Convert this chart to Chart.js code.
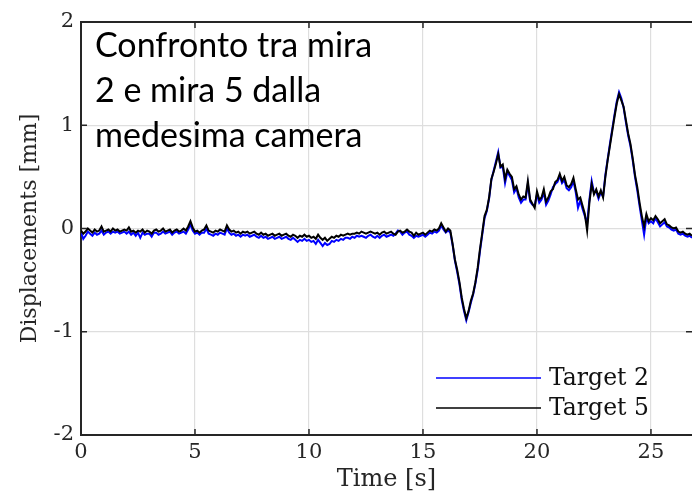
<!DOCTYPE html>
<html><head><meta charset="utf-8">
<script src="https://cdn.jsdelivr.net/npm/chart.js@4.4.1/dist/chart.umd.min.js"></script>
<style>html,body{margin:0;padding:0;background:#fff;}#wrap{width:692px;height:497px;}</style>
</head><body><div id="wrap"><canvas id="c" width="692" height="497"></canvas></div>
<script>
const timeStart = 0, timeStep = 0.1;
const seriesLabels = ['Target 2', 'Target 5'];
const xTicks = [0, 5, 10, 15, 20, 25];
const yTicks = [-2, -1, 0, 1, 2];
const titleLines = ['Confronto tra mira', '2 e mira 5 dalla', 'medesima camera'];

const target5 = [
-0.02,-0.05,-0.03,0.00,-0.02,-0.04,-0.01,-0.03,-0.02,0.02,
-0.03,-0.02,-0.01,-0.03,0.00,-0.02,-0.01,-0.03,-0.02,-0.01,
-0.02,0.01,-0.03,-0.02,-0.04,-0.02,-0.03,-0.01,-0.04,-0.02,
-0.03,-0.05,-0.02,-0.01,-0.03,-0.02,0.00,-0.03,-0.02,-0.01,
-0.04,-0.02,-0.01,-0.03,-0.02,0.00,-0.02,0.02,0.07,0.01,
-0.03,-0.02,-0.04,-0.02,-0.01,0.03,-0.02,-0.03,-0.04,-0.02,
-0.03,-0.01,-0.02,-0.03,0.03,-0.01,-0.03,-0.02,-0.04,-0.03,
-0.05,-0.03,-0.04,-0.03,-0.05,-0.04,-0.03,-0.05,-0.06,-0.04,
-0.06,-0.05,-0.07,-0.06,-0.05,-0.07,-0.06,-0.05,-0.07,-0.06,
-0.05,-0.07,-0.08,-0.06,-0.07,-0.09,-0.07,-0.08,-0.06,-0.08,
-0.07,-0.09,-0.08,-0.10,-0.06,-0.09,-0.11,-0.09,-0.12,-0.10,
-0.08,-0.09,-0.07,-0.08,-0.06,-0.07,-0.06,-0.05,-0.06,-0.05,
-0.05,-0.04,-0.05,-0.03,-0.04,-0.05,-0.04,-0.03,-0.04,-0.05,
-0.04,-0.06,-0.04,-0.03,-0.05,-0.04,-0.03,-0.05,-0.06,-0.03,
-0.02,-0.04,-0.03,-0.01,-0.03,-0.04,-0.07,-0.04,-0.06,-0.05,
-0.04,-0.06,-0.04,-0.02,-0.03,-0.01,-0.02,0.00,0.05,0.01,
-0.03,0.00,-0.02,-0.15,-0.30,-0.40,-0.52,-0.67,-0.78,-0.87,
-0.80,-0.70,-0.63,-0.52,-0.38,-0.20,-0.04,0.12,0.18,0.30,
0.48,0.55,0.63,0.72,0.60,0.62,0.48,0.57,0.53,0.50,
0.38,0.41,0.33,0.28,0.31,0.30,0.46,0.28,0.24,0.20,
0.36,0.28,0.30,0.38,0.26,0.30,0.36,0.38,0.45,0.47,
0.53,0.46,0.50,0.42,0.40,0.43,0.49,0.38,0.28,0.30,
0.22,0.14,-0.02,0.25,0.43,0.33,0.38,0.31,0.37,0.30,
0.50,0.66,0.80,0.94,1.08,1.21,1.30,1.24,1.18,1.05,
0.92,0.82,0.68,0.52,0.40,0.25,0.12,0.02,0.14,0.07,
0.10,0.08,0.12,0.09,0.05,0.07,0.09,0.04,0.03,0.01,
0.00,0.01,-0.03,-0.04,-0.03,-0.05,-0.06,-0.05,-0.07
];
const target2 = [
-0.04,-0.10,-0.07,-0.03,-0.05,-0.07,-0.04,-0.06,-0.05,-0.02,
-0.06,-0.04,-0.03,-0.05,-0.03,-0.04,-0.03,-0.05,-0.04,-0.03,
-0.05,-0.03,-0.06,-0.04,-0.07,-0.04,-0.09,-0.04,-0.06,-0.05,
-0.05,-0.08,-0.04,-0.04,-0.06,-0.05,-0.03,-0.05,-0.04,-0.03,
-0.06,-0.04,-0.03,-0.05,-0.04,-0.03,-0.05,-0.01,0.04,-0.02,
-0.05,-0.04,-0.06,-0.04,-0.04,0.00,-0.05,-0.06,-0.07,-0.05,
-0.06,-0.04,-0.05,-0.06,0.00,-0.04,-0.06,-0.05,-0.07,-0.06,
-0.08,-0.06,-0.07,-0.06,-0.08,-0.07,-0.06,-0.08,-0.09,-0.07,
-0.09,-0.08,-0.10,-0.09,-0.08,-0.10,-0.09,-0.08,-0.10,-0.09,
-0.08,-0.10,-0.11,-0.09,-0.11,-0.13,-0.11,-0.12,-0.10,-0.12,
-0.11,-0.13,-0.12,-0.15,-0.11,-0.14,-0.17,-0.14,-0.16,-0.15,
-0.12,-0.13,-0.11,-0.12,-0.10,-0.11,-0.09,-0.09,-0.10,-0.08,
-0.09,-0.07,-0.08,-0.07,-0.08,-0.09,-0.07,-0.06,-0.08,-0.09,
-0.07,-0.09,-0.07,-0.06,-0.08,-0.07,-0.06,-0.07,-0.05,-0.02,
-0.03,-0.06,-0.04,-0.03,-0.06,-0.07,-0.09,-0.07,-0.08,-0.07,
-0.06,-0.08,-0.06,-0.04,-0.05,-0.03,-0.04,-0.02,0.03,-0.01,
-0.04,-0.02,-0.04,-0.16,-0.31,-0.42,-0.54,-0.69,-0.80,-0.89,
-0.81,-0.72,-0.64,-0.53,-0.40,-0.22,-0.06,0.10,0.17,0.29,
0.47,0.56,0.65,0.74,0.59,0.60,0.44,0.55,0.51,0.47,
0.35,0.39,0.30,0.25,0.28,0.28,0.43,0.26,0.23,0.22,
0.33,0.25,0.28,0.35,0.23,0.27,0.33,0.40,0.43,0.45,
0.51,0.44,0.47,0.39,0.37,0.40,0.46,0.35,0.20,0.27,
0.19,0.12,0.05,0.28,0.46,0.35,0.36,0.29,0.35,0.31,
0.52,0.67,0.82,0.96,1.10,1.23,1.32,1.26,1.17,1.03,
0.90,0.80,0.66,0.50,0.37,0.22,0.08,-0.06,0.11,0.05,
0.07,0.05,0.10,0.06,0.02,0.04,0.06,0.02,0.01,-0.01,
-0.02,-0.01,-0.05,-0.06,-0.05,-0.07,-0.08,-0.07,-0.09
];

function toPoints(arr){ return arr.map((v,i)=>({x: +(timeStart + i*timeStep).toFixed(2), y: v})); }

const SERIF = "'DejaVu Serif', serif";
const AX = '#262626';

const decor = {
  id: 'decor',
  afterDatasetsDraw(chart){
    const {ctx, chartArea:a, scales:{x, y}} = chart;
    ctx.save();
    ctx.strokeStyle = AX; ctx.lineWidth = 2;
    ctx.beginPath();
    ctx.moveTo(a.left, a.top); ctx.lineTo(a.right, a.top);
    ctx.stroke();
    ctx.lineWidth = 1.5;
    ctx.beginPath();
    xTicks.forEach(t=>{ const px = x.getPixelForValue(t);
      ctx.moveTo(px, a.bottom); ctx.lineTo(px, a.bottom-6);
      ctx.moveTo(px, a.top); ctx.lineTo(px, a.top+6); });
    yTicks.forEach(t=>{ const py = y.getPixelForValue(t);
      ctx.moveTo(a.left, py); ctx.lineTo(a.left+6, py);
      ctx.moveTo(a.right, py); ctx.lineTo(a.right-6, py); });
    ctx.stroke();
    const ds = chart.data.datasets;
    const lx0 = 436, lx1 = 541, ly = [378, 408];
    ds.forEach((d, i)=>{
      ctx.strokeStyle = d.borderColor; ctx.lineWidth = 1.6;
      ctx.beginPath(); ctx.moveTo(lx0, ly[i]); ctx.lineTo(lx1, ly[i]); ctx.stroke();
      ctx.fillStyle = '#111'; ctx.font = "23.5px " + SERIF;
      ctx.textBaseline = 'middle'; ctx.textAlign = 'left';
      ctx.fillText(d.label, 549, ly[i]+1);
    });
    ctx.fillStyle = '#000'; ctx.font = "34px Lato";
    ctx.textBaseline = 'alphabetic';
    titleLines.forEach((s, i)=> ctx.fillText(s, 95, 57 + i*45));
    ctx.restore();
  }
};

new Chart(document.getElementById('c'), {
  type: 'line',
  data: { datasets: [
    { label: seriesLabels[0], data: toPoints(target2), borderColor: '#0000ff', borderWidth: 2, pointRadius: 0, tension: 0, order: 2 },
    { label: seriesLabels[1], data: toPoints(target5), borderColor: '#000000', borderWidth: 2, pointRadius: 0, tension: 0, order: 1 }
  ]},
  options: {
    responsive: false, animation: false,
    layout: { padding: { top: 22, right: 0, left: 0, bottom: 0 } },
    plugins: { legend: { display: false }, tooltip: { enabled: false } },
    scales: {
      x: { type: 'linear', min: 0, max: 26.8,
        afterFit(s){ s.height = 62; },
        ticks: { stepSize: 5, includeBounds: false, padding: 5, color: AX, font: { family: SERIF, size: 21 } },
        grid: { color: '#dedede', lineWidth: 1.2, drawTicks: false },
        border: { color: AX, width: 2 },
        title: { display: true, text: 'Time [s]', color: AX, font: { family: SERIF, size: 24 }, padding: { top: 0, bottom: 3 } }
      },
      y: { min: -2, max: 2,
        afterFit(s){ s.width = 81; },
        ticks: { stepSize: 1, padding: 7, color: AX, font: { family: SERIF, size: 21 } },
        grid: { color: '#dedede', lineWidth: 1.2, drawTicks: false },
        border: { color: AX, width: 2 },
        title: { display: true, text: 'Displacements [mm]', color: AX, font: { family: SERIF, size: 22 }, padding: { top: 17, bottom: 0 } }
      }
    }
  },
  plugins: [decor]
});
</script></body></html>
